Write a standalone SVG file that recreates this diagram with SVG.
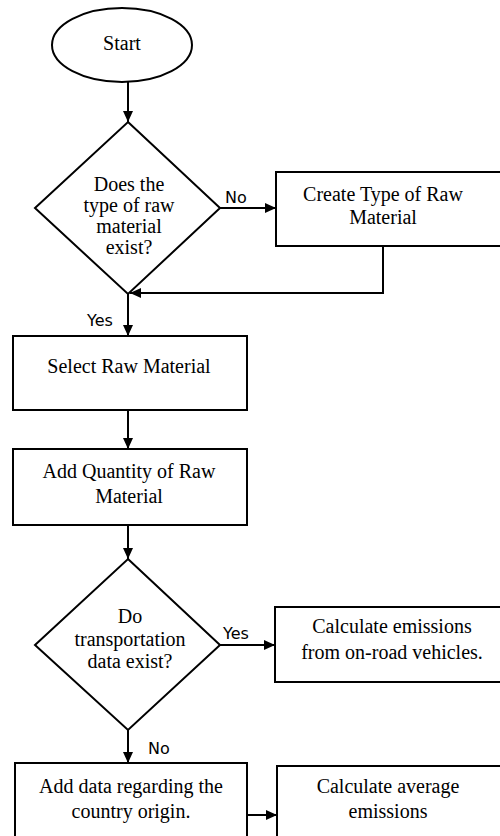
<svg xmlns="http://www.w3.org/2000/svg" width="500" height="836" viewBox="0 0 500 836">
  <style>
    .shape { fill: #ffffff; stroke: #000000; stroke-width: 2; }
    .link { fill: none; stroke: #000000; stroke-width: 2; }
    .txt { font-family: "Liberation Serif", "Times New Roman", serif; font-size: 20px; fill: #000000; text-anchor: middle; }
    .lbl { font-family: "DejaVu Sans", "Liberation Sans", sans-serif; font-size: 16px; fill: #000000; }
  </style>
  <defs>
    <marker id="arrow" markerUnits="userSpaceOnUse" markerWidth="12" markerHeight="10" refX="11" refY="5" orient="auto">
      <path d="M0,0 L11,5 L0,10 Z" fill="#000000"/>
    </marker>
  </defs>
  <rect width="500" height="836" fill="#ffffff"/>

  <!-- connectors -->
  <g id="connectors">
    <path class="link" d="M128,82 L128,122" marker-end="url(#arrow)"/>
    <path class="link" d="M220,208 L276,208" marker-end="url(#arrow)"/>
    <path class="link" d="M383,246 L383,293 L130,293" marker-end="url(#arrow)"/>
    <path class="link" d="M128,294 L128,336" marker-end="url(#arrow)"/>
    <path class="link" d="M128,410 L128,449" marker-end="url(#arrow)"/>
    <path class="link" d="M128,525 L128,559" marker-end="url(#arrow)"/>
    <path class="link" d="M220,645 L275,645" marker-end="url(#arrow)"/>
    <path class="link" d="M128,730 L128,763" marker-end="url(#arrow)"/>
    <path class="link" d="M247,815 L277,815" marker-end="url(#arrow)"/>
    <text class="lbl" x="225" y="203">No</text>
    <text class="lbl" x="87" y="326">Yes</text>
    <text class="lbl" x="223" y="639">Yes</text>
    <text class="lbl" x="148" y="754">No</text>
  </g>

  <g id="start">
    <ellipse class="shape" cx="122" cy="45" rx="70" ry="37"/>
    <text class="txt" x="122" y="50">Start</text>
  </g>

  <g id="decision-type">
    <polygon class="shape" points="128,122 220,208 128,294 35,208"/>
    <text class="txt" x="129" y="191">Does the</text>
    <text class="txt" x="129" y="212">type of raw</text>
    <text class="txt" x="129" y="233">material</text>
    <text class="txt" x="129" y="254">exist?</text>
  </g>

  <g id="create-type">
    <rect class="shape" x="276" y="172" width="240" height="74"/>
    <text class="txt" x="383" y="201">Create Type of Raw</text>
    <text class="txt" x="383" y="224">Material</text>
  </g>

  <g id="select-material">
    <rect class="shape" x="13" y="336" width="234" height="74"/>
    <text class="txt" x="129" y="373">Select Raw Material</text>
  </g>

  <g id="add-quantity">
    <rect class="shape" x="13" y="449" width="234" height="76"/>
    <text class="txt" x="129" y="478">Add Quantity of Raw</text>
    <text class="txt" x="129" y="503">Material</text>
  </g>

  <g id="decision-transport">
    <polygon class="shape" points="128,559 220,645 128,730 35,645"/>
    <text class="txt" x="130" y="623">Do</text>
    <text class="txt" x="130" y="646">transportation</text>
    <text class="txt" x="130" y="668">data exist?</text>
  </g>

  <g id="calc-onroad">
    <rect class="shape" x="275" y="607" width="240" height="75"/>
    <text class="txt" x="392" y="633">Calculate emissions</text>
    <text class="txt" x="392" y="659">from on-road vehicles.</text>
  </g>

  <g id="add-origin">
    <rect class="shape" x="15" y="763" width="232" height="90"/>
    <text class="txt" x="131" y="793">Add data regarding the</text>
    <text class="txt" x="131" y="818">country origin.</text>
  </g>

  <g id="calc-average">
    <rect class="shape" x="277" y="766" width="240" height="90"/>
    <text class="txt" x="388" y="793">Calculate average</text>
    <text class="txt" x="388" y="818">emissions</text>
  </g>
</svg>
